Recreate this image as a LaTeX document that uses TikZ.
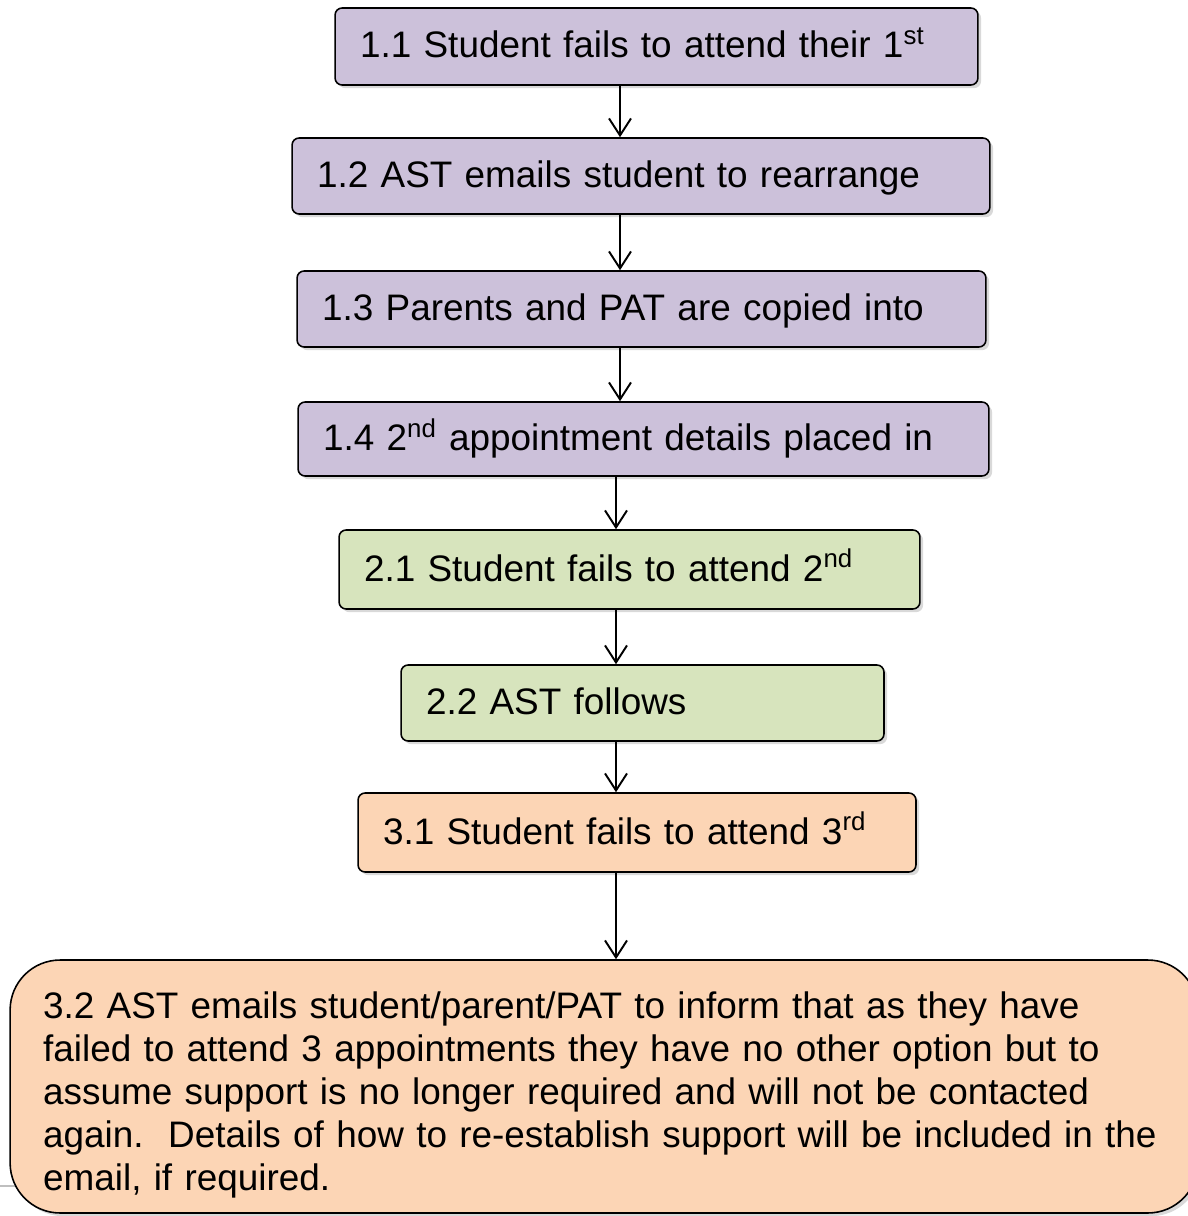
\documentclass[tikz,border=0pt]{standalone}
\usepackage{fontspec}
\setsansfont{Liberation Sans}
\usetikzlibrary{arrows.meta,shadows}
\definecolor{cLilac}{HTML}{CCC1DA}
\definecolor{cSage}{HTML}{D7E4BD}
\definecolor{cPeach}{HTML}{FCD5B5}
\definecolor{cInk}{HTML}{000000}
\tikzset{
  flow/.style={-{Straight Barb[length=3.4mm,width=4.4mm]},line width=1.1pt,draw=cInk},
  stagebox/.style={rounded corners=4pt,draw=cInk,line width=0.9pt,align=left,
                   font=\sffamily\fontsize{21}{24.5}\selectfont,inner xsep=0.5cm,inner ysep=0pt,
                   text height=0.6cm,text depth=0.14cm,
                   drop shadow={shadow xshift=1.8pt,shadow yshift=-1.8pt,opacity=0.3}},
  lilacbox/.style={stagebox,fill=cLilac},
  sagebox/.style={stagebox,fill=cSage},
  peachbox/.style={stagebox,fill=cPeach}
}

\begin{document}
\begin{tikzpicture}[x=0.02cm,y=-0.02cm]
  \useasboundingbox (0,0) rectangle (1187,1216);
  \coordinate (spineA) at (620,0);
  \coordinate (spineB) at (616,0);
  \draw[line width=0.8pt,draw=black!25] (0,1186) -- (60,1186);

  % first missed appointment
  \node[lilacbox,text width=11.86cm,minimum height=1.54cm] (s11) at (656.5,46.5)
    {1.1 Student fails to attend their 1\textsuperscript{st}};
  \node[lilacbox,text width=12.96cm,minimum height=1.52cm] (s12) at (641,176)
    {1.2 AST emails student to rearrange};
  \node[lilacbox,text width=12.78cm,minimum height=1.52cm] (s13) at (641.5,309)
    {1.3 Parents and PAT are copied into};
  \node[lilacbox,text width=12.82cm,minimum height=1.48cm] (s14) at (643.5,439)
    {1.4 2\textsuperscript{nd} appointment details placed in};

  % second missed appointment
  \node[sagebox,text width=10.62cm,minimum height=1.58cm] (s21) at (629.5,569.5)
    {2.1 Student fails to attend 2\textsuperscript{nd}};
  \node[sagebox,text width=8.66cm,minimum height=1.52cm] (s22) at (642.5,703)
    {2.2 AST follows};

  % third missed appointment
  \node[peachbox,text width=10.16cm,minimum height=1.58cm] (s31) at (637,832.5)
    {3.1 Student fails to attend 3\textsuperscript{rd}};
  \node[peachbox,rounded corners=1cm,inner xsep=0.66cm,text width=22.44cm,
        text height=0.86cm,text depth=,minimum height=5.06cm] (s32) at (604,1086.5)
    {3.2 AST emails student/parent/PAT to inform that as they have\\
     failed to attend 3 appointments they have no other option but to\\
     assume support is no longer required and will not be contacted\\
     again.\ \ Details of how to re-establish support will be included in the\\
     email, if required.};

  \draw[flow] (s11.south -| spineA) -- (s12.north -| spineA);
  \draw[flow] (s12.south -| spineA) -- (s13.north -| spineA);
  \draw[flow] (s13.south -| spineA) -- (s14.north -| spineA);
  \draw[flow] (s14.south -| spineB) -- (s21.north -| spineB);
  \draw[flow] (s21.south -| spineB) -- (s22.north -| spineB);
  \draw[flow] (s22.south -| spineB) -- (s31.north -| spineB);
  \draw[flow] (s31.south -| spineB) -- (s32.north -| spineB);
\end{tikzpicture}
\end{document}
